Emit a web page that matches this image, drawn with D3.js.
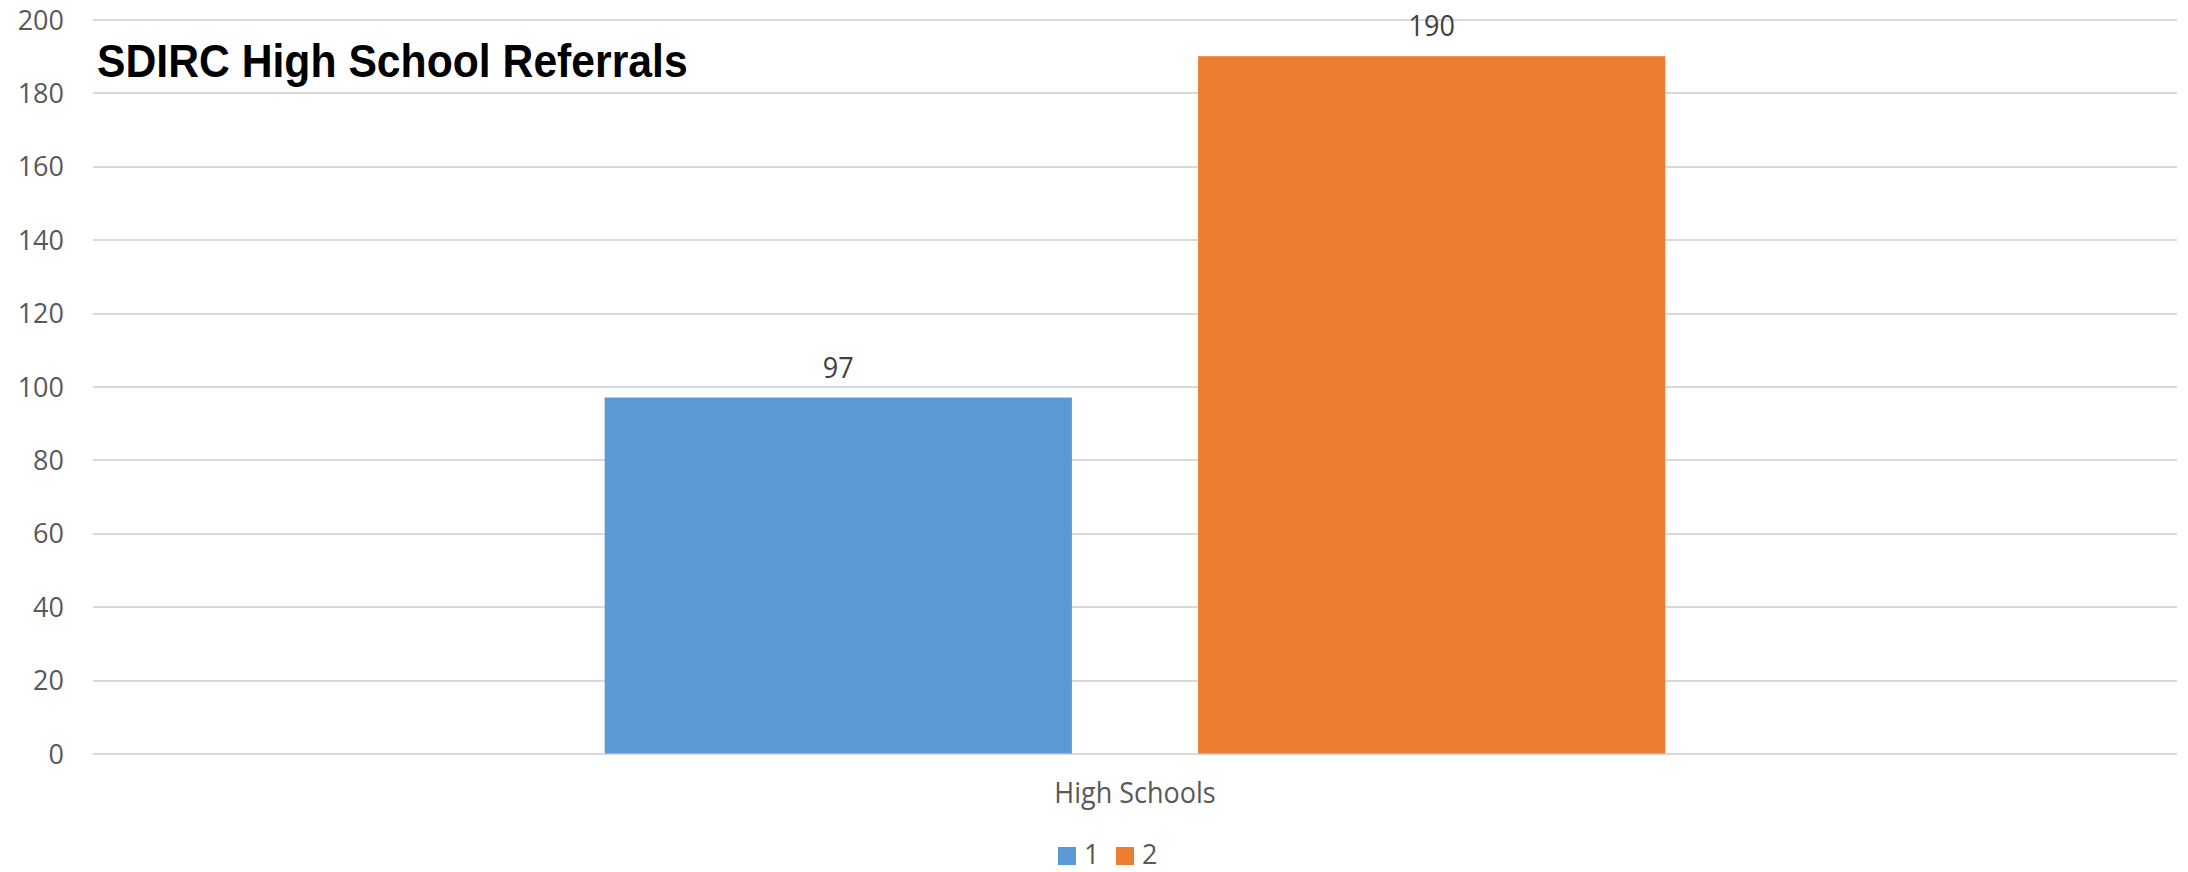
<!DOCTYPE html>
<html>
<head>
<meta charset="utf-8">
<script src="https://cdn.jsdelivr.net/npm/d3@7"></script>
<style>
  html, body { margin: 0; padding: 0; background: #ffffff; }
  svg { display: block; }
</style>
</head>
<body>
<svg id="chart" width="2188" height="872"></svg>
<script>
const title = "SDIRC High School Referrals";
const categories = ["High Schools"];
const seriesNames = ["1", "2"];
const seriesValues = [97, 190];
const yTicks = [0, 20, 40, 60, 80, 100, 120, 140, 160, 180, 200];
const colors = ["#5B9BD5", "#ED7D31"];

const W = 2188, H = 872;
const plot = { left: 93, right: 2177, top: 19.5, bottom: 753.5 };
const svg = d3.select("#chart");
const SY = 1.1; // vertical stretch of reference text

const y = d3.scaleLinear().domain([0, 200]).range([plot.bottom, plot.top]);
const x0 = d3.scaleBand().domain(categories).range([plot.left, plot.right]).padding(0);

// Excel-like clustering: gap width 219%, overlap -27%
const gapW = 2.19, ov = 0.27, n = seriesNames.length;
const catW = x0.bandwidth();
const bw = catW / (n + (n - 1) * ov + gapW);
const clusterW = bw * (n + (n - 1) * ov);
const p = ov / (1 + ov);
const x1 = d3.scaleBand().domain(seriesNames)
  .range([0, clusterW]).paddingInner(p).paddingOuter(0);
const clusterStart = c => x0(c) + (catW - clusterW) / 2;

// gridlines
const yAxis = d3.axisLeft(y).tickValues(yTicks).tickSize(-(plot.right - plot.left)).tickFormat("");
const g = svg.append("g").attr("transform", `translate(${plot.left},0)`).call(yAxis);
g.select(".domain").remove();
g.selectAll(".tick line").attr("stroke", "#d9d9d9").attr("stroke-width", 2).attr("shape-rendering", "crispEdges");

// tick labels
svg.append("g").selectAll("text").data(yTicks).join("text")
  .attr("x", 64)
  .attr("y", d => y(d) + 10)
  .attr("text-anchor", "end")
  .attr("font-family", "'Open Sans', sans-serif")
  .attr("font-size", 27)
  .attr("fill", "#595959")
  .text(d => d);

// bars
const rows = seriesNames.map((s, i) => ({ cat: categories[0], s, v: seriesValues[i], c: colors[i] }));
svg.append("g").selectAll("rect").data(rows).join("rect")
  .attr("x", d => clusterStart(d.cat) + x1(d.s))
  .attr("width", x1.bandwidth())
  .attr("y", d => y(d.v))
  .attr("height", d => y(0) - y(d.v))
  .attr("fill", d => d.c);

// data labels
svg.append("g").selectAll("text").data(rows).join("text")
  .attr("transform", d => `translate(${clusterStart(d.cat) + x1(d.s) + x1.bandwidth() / 2},${y(d.v) - 20}) scale(1,${SY})`)
  .attr("text-anchor", "middle")
  .attr("font-family", "'Open Sans', sans-serif")
  .attr("font-size", 27)
  .attr("fill", "#404040")
  .text(d => d.v);

// category label
svg.append("g").selectAll("text").data(categories).join("text")
  .attr("transform", d => `translate(${x0(d) + catW / 2},803) scale(1,${SY})`)
  .attr("text-anchor", "middle")
  .attr("font-family", "'Open Sans', sans-serif")
  .attr("font-size", 27)
  .attr("fill", "#595959")
  .text(d => d);

// legend
const legendX = [1058, 1116];
const lg = svg.append("g").selectAll("g").data(rows).join("g")
  .attr("transform", (d, i) => `translate(${legendX[i]},847)`);
lg.append("rect").attr("width", 18).attr("height", 18).attr("fill", d => d.c);
lg.append("text")
  .attr("x", 26)
  .attr("y", 17)
  .attr("font-family", "'Open Sans', sans-serif")
  .attr("font-size", 27)
  .attr("fill", "#595959")
  .text(d => d.s);

// title
svg.append("text")
  .attr("transform", `translate(97,77) scale(1,${SY})`)
  .attr("font-family", "'Liberation Sans', Arial, sans-serif")
  .attr("font-weight", "bold")
  .attr("font-size", 42.7)
  .attr("fill", "#000000")
  .text(title);
</script>
</body>
</html>
